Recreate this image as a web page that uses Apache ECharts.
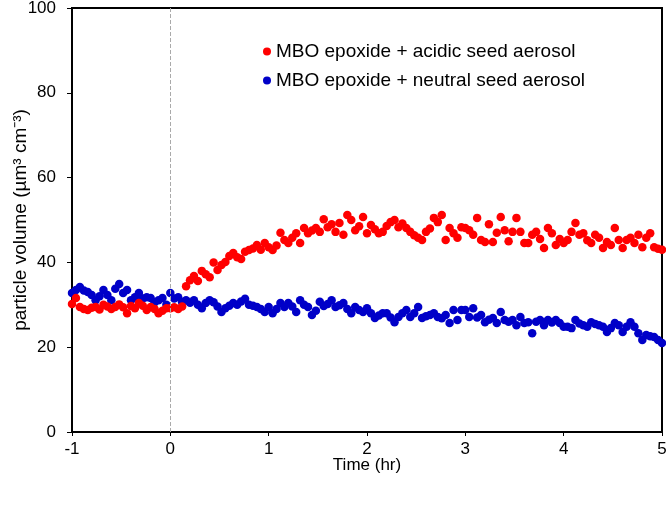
<!DOCTYPE html>
<html>
<head>
<meta charset="utf-8">
<script src="https://cdn.jsdelivr.net/npm/echarts@6/dist/echarts.min.js"></script>
<style>html,body{margin:0;padding:0;background:#fff}#c{width:666px;height:506px}</style>
</head>
<body>
<div id="c"></div>
<script>
var times = [
 -1.00,-0.96,-0.92,-0.88,-0.84,-0.80,-0.76,-0.72,-0.68,-0.64,-0.60,-0.56,-0.52,-0.48,-0.44,-0.40,-0.36,-0.32,-0.28,-0.24,-0.20,-0.16,-0.12,-0.08,-0.04,
 0.00,0.04,0.08,0.12,0.16,0.20,0.24,0.28,0.32,0.36,0.40,0.44,0.48,0.52,0.56,0.60,0.64,0.68,0.72,0.76,0.80,0.84,0.88,0.92,0.96,
 1.00,1.04,1.08,1.12,1.16,1.20,1.24,1.28,1.32,1.36,1.40,1.44,1.48,1.52,1.56,1.60,1.64,1.68,1.72,1.76,1.80,1.84,1.88,1.92,1.96,
 2.00,2.04,2.08,2.12,2.16,2.20,2.24,2.28,2.32,2.36,2.40,2.44,2.48,2.52,2.56,2.60,2.64,2.68,2.72,2.76,2.80,2.84,2.88,2.92,2.96,
 3.00,3.04,3.08,3.12,3.16,3.20,3.24,3.28,3.32,3.36,3.40,3.44,3.48,3.52,3.56,3.60,3.64,3.68,3.72,3.76,3.80,3.84,3.88,3.92,3.96,
 4.00,4.04,4.08,4.12,4.16,4.20,4.24,4.28,4.32,4.36,4.40,4.44,4.48,4.52,4.56,4.60,4.64,4.68,4.72,4.76,4.80,4.84,4.88,4.92,4.96,
 5.00
];
var acidic = [
 30.2,31.6,29.5,29.0,28.8,29.3,29.5,28.9,30.0,29.6,29.0,29.5,30.1,29.4,28.0,29.7,29.2,30.4,29.8,28.8,29.5,29.0,28.0,28.6,29.2,
 29.2,29.4,29.0,29.6,34.4,35.8,36.8,35.6,38.0,37.2,36.5,40.0,38.2,39.4,40.1,41.5,42.2,41.2,40.8,42.5,42.9,43.3,44.1,43.0,44.6,
 43.6,42.9,44.0,47.0,45.3,44.6,45.8,46.9,44.6,48.1,46.9,47.5,48.1,47.2,50.2,48.3,49.0,47.2,49.3,46.5,51.2,50.0,47.6,48.5,50.7,
 46.9,48.8,47.8,46.9,47.2,48.6,49.5,50.0,48.3,49.2,48.1,47.2,46.4,45.8,45.3,47.2,48.0,50.5,49.5,51.2,45.3,48.1,46.9,45.8,48.3,
 48.1,47.6,46.5,50.5,45.3,44.8,49.0,44.8,47.0,50.7,47.6,45.0,47.2,50.5,47.2,44.6,44.6,46.5,47.2,45.5,43.4,48.1,46.9,44.1,45.5,
 44.6,45.3,47.2,49.3,46.5,46.9,45.2,44.6,46.5,45.8,43.4,44.8,44.1,48.1,45.3,43.4,45.3,45.8,44.6,46.5,43.6,45.8,46.9,43.6,43.2,
 43.0
];
var neutral = [
 32.8,33.5,34.2,33.4,33.0,32.3,31.1,32.0,33.5,32.3,31.1,33.8,34.9,32.8,33.5,31.1,31.8,32.8,31.5,31.8,31.6,30.6,31.1,31.6,30.0,
 32.8,31.5,31.8,30.6,31.1,30.5,31.1,30.0,29.2,30.4,31.1,30.6,29.6,28.3,29.2,29.8,30.4,30.0,30.8,31.4,30.0,29.8,29.5,29.0,28.3,
 29.5,28.0,29.0,30.4,29.5,30.4,29.6,28.3,31.1,30.0,29.5,27.6,28.6,30.7,29.7,30.2,31.1,29.5,29.9,30.4,29.0,28.0,29.5,28.8,28.3,
 29.2,28.0,26.9,27.5,28.0,28.0,27.0,25.9,27.1,28.0,28.8,27.1,28.0,29.5,26.9,27.3,27.6,28.0,27.1,26.8,27.6,25.7,28.8,26.4,28.8,
 28.8,27.1,29.2,27.0,27.6,25.9,26.5,26.9,25.7,28.3,26.4,26.0,26.4,25.2,27.1,25.7,25.9,23.3,26.0,26.4,25.2,26.4,25.8,26.4,25.7,
 24.8,24.8,24.5,26.4,25.6,25.2,24.8,25.9,25.5,25.2,24.8,23.6,24.5,25.7,25.2,23.6,24.8,25.9,24.8,23.3,21.7,22.9,22.6,22.4,21.7,
 21.0
];
var seriesNames = ['MBO epoxide + acidic seed aerosol', 'MBO epoxide + neutral seed aerosol'];
var xTicks = [-1, 0, 1, 2, 3, 4, 5];
var yTicks = [0, 20, 40, 60, 80, 100];

var FONT = '"Liberation Sans", Arial, sans-serif';
function pairs(vals){ return times.map(function(t,i){ return [t, vals[i]]; }); }

var chart = echarts.init(document.getElementById('c'), null, {renderer:'canvas'});
chart.setOption({
  animation: false,
  backgroundColor: '#fff',
  grid: {left: 72, right: 4, top: 8, bottom: 74, containLabel: false, outerBoundsMode: 'none',
         show: true, borderColor: '#000', borderWidth: 2, backgroundColor: 'transparent'},
  legend: {
    orient: 'vertical', left: 258, top: 37, itemGap: 10,
    itemWidth: 8, itemHeight: 8, icon: 'circle',
    textStyle: {fontFamily: FONT, fontSize: 19, color: '#000'},
    data: seriesNames
  },
  xAxis: {
    type: 'value', min: xTicks[0], max: xTicks[xTicks.length-1], interval: 1,
    name: 'Time (hr)', nameLocation: 'middle', nameGap: 25, nameMoveOverlap: false,
    nameTextStyle: {fontFamily: FONT, fontSize: 17, color: '#000'},
    axisLine: {show: true, onZero: false, lineStyle: {color: '#000', width: 2}},
    axisTick: {show: true, length: 4, lineStyle: {color: '#000'}},
    axisLabel: {fontFamily: FONT, fontSize: 17, color: '#000', margin: 9},
    splitLine: {show: false}
  },
  yAxis: {
    type: 'value', min: yTicks[0], max: yTicks[yTicks.length-1], interval: 20,
    name: 'particle volume (µm³ cm⁻³)', nameLocation: 'middle', nameGap: 42, nameRotate: 90, nameMoveOverlap: false,
    nameTextStyle: {fontFamily: FONT, fontSize: 19, color: '#000'},
    axisLine: {show: true, onZero: false, lineStyle: {color: '#000', width: 2}},
    axisTick: {show: true, length: 5, lineStyle: {color: '#000'}},
    axisLabel: {fontFamily: FONT, fontSize: 17, color: '#000', margin: 16},
    splitLine: {show: false}
  },
  series: [
    {
      name: seriesNames[0], type: 'scatter', symbolSize: 8.5,
      itemStyle: {color: '#FF0000', opacity: 1},
      data: pairs(acidic),
      markLine: {
        silent: true, symbol: 'none', label: {show: false},
        lineStyle: {color: '#aaa', type: 'dashed', width: 1},
        emphasis: {disabled: true},
        data: [{xAxis: 0}]
      },
      z: 3
    },
    {
      name: seriesNames[1], type: 'scatter', symbolSize: 8.5,
      itemStyle: {color: '#0000C8', opacity: 1},
      data: pairs(neutral),
      z: 2
    }
  ]
});
</script>
</body>
</html>
